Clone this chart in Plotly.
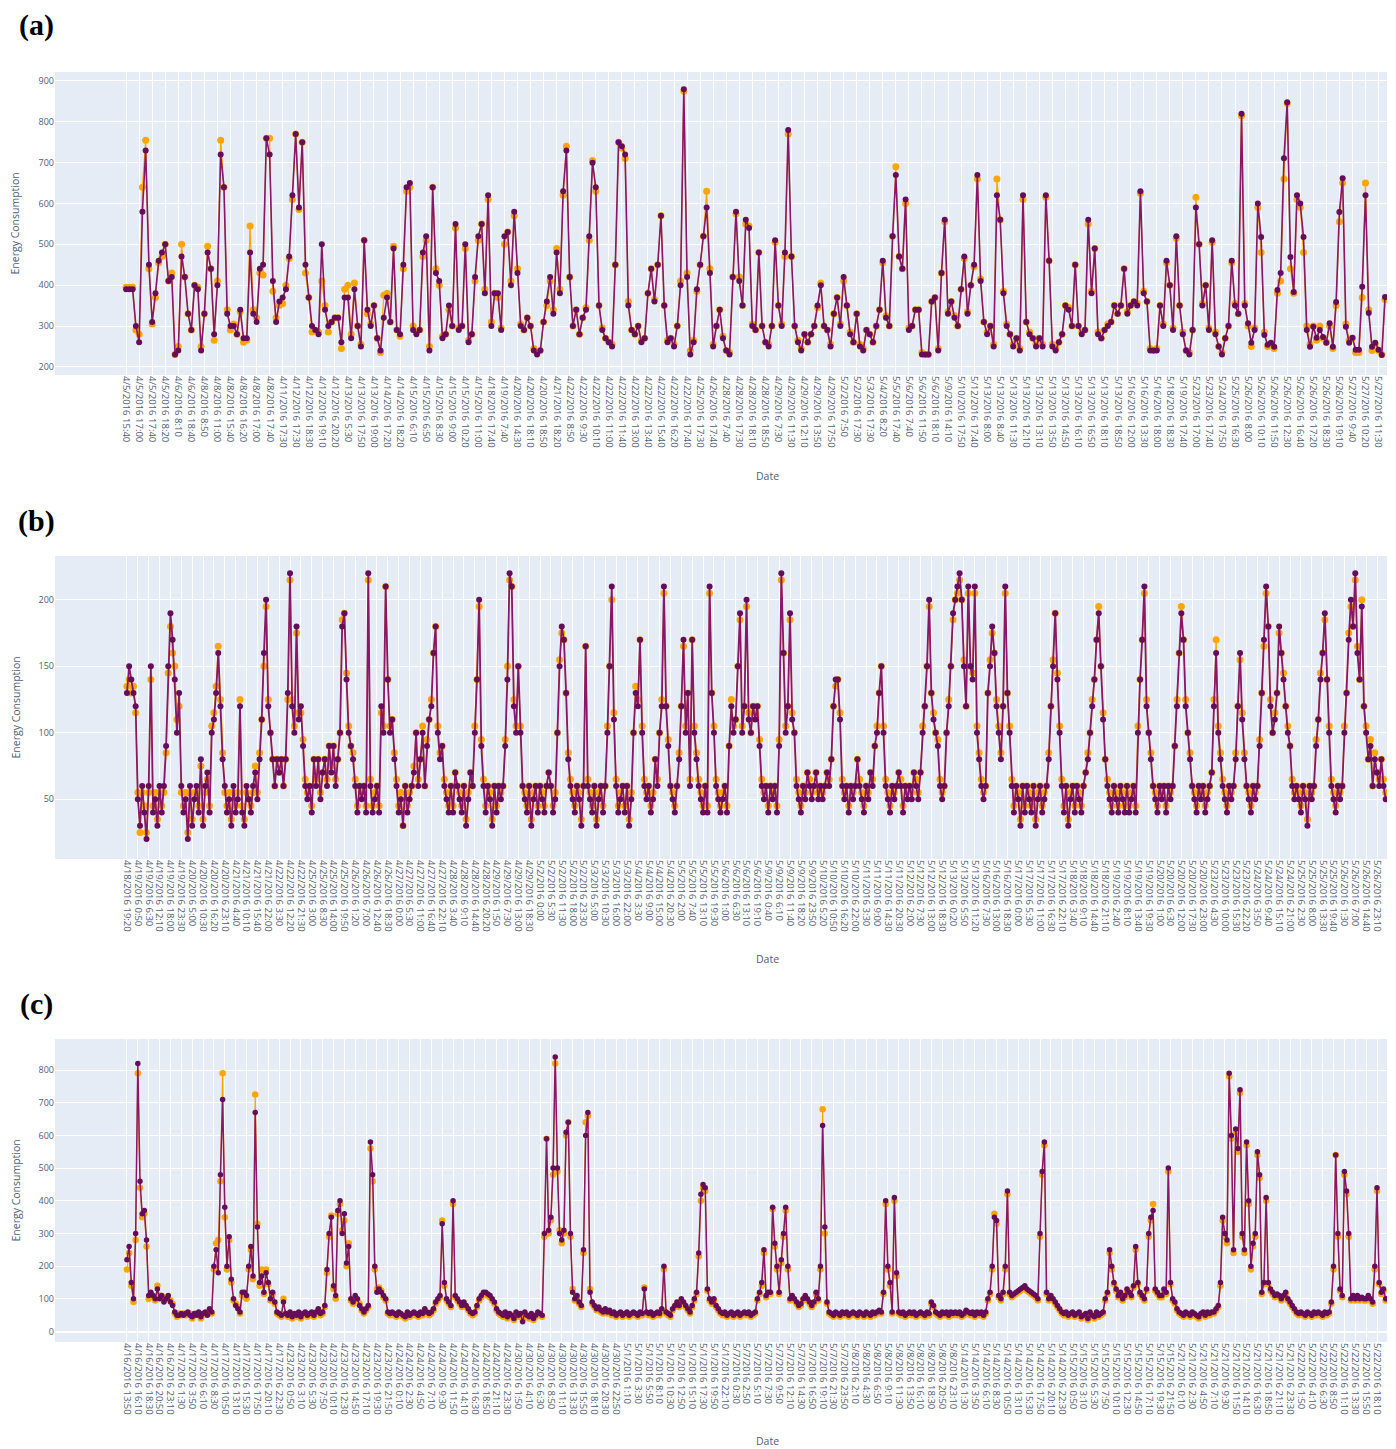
import plotly.graph_objects as go

# ---------------- panel (a) ----------------
A_LABELS = [
"4/5/2016 15:40","4/5/2016 17:00","4/5/2016 17:40","4/5/2016 18:20","4/6/2016 8:10","4/6/2016 18:40","4/8/2016 8:50","4/8/2016 11:00","4/8/2016 15:40","4/8/2016 16:20",
"4/8/2016 17:00","4/8/2016 17:40","4/11/2016 17:30","4/12/2016 17:30","4/12/2016 18:30","4/12/2016 19:10","4/12/2016 20:20","4/13/2016 5:30","4/13/2016 17:50","4/13/2016 19:00",
"4/14/2016 17:20","4/14/2016 18:20","4/15/2016 6:10","4/15/2016 6:50","4/15/2016 8:30","4/15/2016 9:00","4/15/2016 10:20","4/15/2016 11:00","4/18/2016 17:40","4/19/2016 7:40",
"4/20/2016 14:30","4/20/2016 18:10","4/20/2016 18:50","4/21/2016 18:20","4/22/2016 8:50","4/22/2016 9:30","4/22/2016 10:10","4/22/2016 11:00","4/22/2016 11:40","4/22/2016 13:00",
"4/22/2016 13:40","4/22/2016 15:40","4/22/2016 16:20","4/22/2016 17:40","4/25/2016 17:30","4/26/2016 17:40","4/28/2016 7:40","4/28/2016 17:30","4/28/2016 18:10","4/28/2016 18:50",
"4/29/2016 7:30","4/29/2016 11:30","4/29/2016 12:10","4/29/2016 13:50","4/29/2016 17:50","5/2/2016 7:50","5/2/2016 17:30","5/3/2016 17:30","5/4/2016 8:20","5/5/2016 17:40",
"5/6/2016 7:40","5/6/2016 11:50","5/6/2016 18:10","5/9/2016 14:10","5/10/2016 17:50","5/12/2016 17:40","5/13/2016 8:00","5/13/2016 8:40","5/13/2016 11:30","5/13/2016 12:10",
"5/13/2016 13:10","5/13/2016 13:50","5/13/2016 14:50","5/13/2016 16:10","5/13/2016 16:50","5/13/2016 18:10","5/13/2016 18:50","5/16/2016 12:00","5/16/2016 13:30","5/16/2016 18:00",
"5/18/2016 18:30","5/19/2016 17:40","5/23/2016 17:00","5/23/2016 17:40","5/24/2016 17:50","5/25/2016 16:30","5/26/2016 8:00","5/26/2016 10:10","5/26/2016 11:50","5/26/2016 12:30",
"5/26/2016 16:40","5/26/2016 17:20","5/26/2016 18:30","5/26/2016 19:10","5/27/2016 9:40","5/27/2016 10:20","5/27/2016 11:30","5/27/2016 12:10"]

A_ACTUAL = [
390,390,390,300,260,580,730,450,310,380,460,480,500,410,420,230,240,470,420,330,
290,400,390,240,330,480,440,280,400,720,640,330,300,300,280,340,270,270,480,330,
310,440,450,760,720,410,310,360,370,390,470,620,770,590,750,450,370,300,290,280,
500,340,300,310,320,320,260,370,370,270,390,300,250,510,340,300,350,270,240,320,
370,310,490,290,280,450,640,650,290,280,290,480,520,240,640,430,410,270,280,350,
300,550,290,300,500,260,280,420,520,550,380,620,300,380,380,290,520,530,400,580,
430,300,290,320,300,240,230,240,310,360,420,330,480,380,630,730,420,300,340,280,
320,340,520,700,640,350,290,270,260,250,450,750,740,720,350,290,280,300,260,270,
380,440,360,450,570,350,260,270,250,300,400,880,420,230,260,390,450,520,590,430,
250,300,340,270,240,230,420,580,410,350,560,540,300,290,480,300,260,250,300,510,
350,300,480,780,470,300,260,240,280,260,280,300,350,400,300,290,250,330,370,300,
420,350,280,260,330,250,240,290,280,260,300,340,460,320,300,520,670,470,440,610,
290,300,340,340,230,230,230,360,370,240,430,560,330,360,320,300,390,470,330,400,
450,670,410,310,280,300,250,620,560,380,300,280,250,270,240,620,310,280,270,250,
270,250,620,460,250,240,260,280,350,340,300,450,300,280,290,560,380,490,280,270,
290,300,310,350,330,350,440,330,350,360,350,630,380,360,240,240,240,350,300,460,
400,290,520,350,280,240,230,290,590,500,350,400,290,510,280,250,230,270,300,460,
350,330,820,350,307,259,290,600,518,278,254,259,249,388,430,711,848,469,383,620,
600,518,290,249,298,271,290,273,259,307,249,359,579,662,298,259,271,242,242,396,
620,332,249,259,242,229,371]

A_PRED = [
395,395,395,290,280,640,755,440,305,370,455,470,500,410,430,230,250,500,420,330,
290,400,395,250,330,495,440,265,410,755,640,340,290,305,280,335,260,265,545,340,
320,430,425,760,760,385,320,350,355,400,465,610,770,585,750,430,370,285,290,285,
410,350,285,310,320,320,245,390,400,280,405,300,255,510,330,305,350,270,235,375,
380,310,495,290,275,440,630,640,300,285,290,470,510,250,640,440,400,275,280,340,
300,540,295,300,490,265,280,410,510,550,390,610,310,380,370,295,500,530,410,570,
440,305,290,320,300,245,235,240,310,350,410,340,490,390,620,740,420,300,340,280,
320,345,510,705,630,350,295,270,260,255,450,750,735,710,360,290,280,300,265,270,
380,440,365,450,570,350,265,270,255,300,410,875,430,240,265,385,450,520,630,440,
255,300,340,275,240,235,420,575,420,350,550,545,305,290,480,300,260,255,300,505,
350,305,470,770,470,300,265,245,280,260,280,300,345,405,300,290,255,330,370,305,
410,350,285,260,330,255,245,290,280,260,300,340,455,325,300,520,690,470,440,600,
295,300,340,340,235,230,230,360,370,245,430,555,335,360,325,300,390,465,335,400,
445,660,415,310,285,300,255,660,560,385,305,280,255,270,245,610,310,285,270,255,
270,255,615,460,255,245,260,280,350,345,300,450,300,285,290,550,385,490,285,270,
290,305,310,350,330,350,440,335,350,360,355,625,385,360,245,240,245,350,305,455,
400,295,515,350,285,240,235,290,615,500,355,400,295,505,285,250,235,270,300,455,
355,330,815,355,300,250,295,590,480,285,250,255,245,380,410,660,845,440,380,610,
590,480,300,255,300,265,300,270,260,300,245,350,555,650,305,265,270,235,235,370,
650,340,240,255,240,230,365]

# ---------------- panel (b) ----------------
B_LABELS = [
"4/18/2016 19:20","4/19/2016 0:50","4/19/2016 6:30","4/19/2016 12:10","4/19/2016 18:00","4/19/2016 23:30","4/20/2016 5:00","4/20/2016 10:30","4/20/2016 16:20","4/20/2016 23:10",
"4/21/2016 4:40","4/21/2016 10:10","4/21/2016 15:40","4/21/2016 22:00","4/22/2016 3:30","4/22/2016 12:20","4/22/2016 21:30","4/25/2016 3:00","4/25/2016 8:30","4/25/2016 14:00",
"4/25/2016 19:50","4/26/2016 1:20","4/26/2016 7:00","4/26/2016 12:40","4/26/2016 18:30","4/27/2016 0:00","4/27/2016 5:30","4/27/2016 11:00","4/27/2016 16:40","4/27/2016 22:10",
"4/28/2016 3:40","4/28/2016 9:10","4/28/2016 14:40","4/28/2016 20:20","4/29/2016 1:50","4/29/2016 7:30","4/29/2016 13:00","4/29/2016 18:30","5/2/2016 0:00","5/2/2016 5:30",
"5/2/2016 11:30","5/2/2016 18:00","5/2/2016 23:30","5/3/2016 5:00","5/3/2016 10:30","5/3/2016 16:00","5/3/2016 22:00","5/4/2016 3:30","5/4/2016 9:00","5/4/2016 15:00",
"5/4/2016 20:30","5/5/2016 2:00","5/5/2016 7:40","5/5/2016 13:10","5/5/2016 19:30","5/6/2016 1:00","5/6/2016 6:30","5/6/2016 13:10","5/6/2016 19:10","5/9/2016 0:40",
"5/9/2016 6:10","5/9/2016 11:40","5/9/2016 18:20","5/9/2016 23:50","5/10/2016 5:20","5/10/2016 10:50","5/10/2016 16:20","5/10/2016 22:00","5/11/2016 3:30","5/11/2016 9:00",
"5/11/2016 14:30","5/11/2016 20:30","5/12/2016 2:00","5/12/2016 7:30","5/12/2016 13:00","5/12/2016 18:30","5/13/2016 0:20","5/13/2016 5:50","5/13/2016 11:20","5/16/2016 7:30",
"5/16/2016 13:00","5/16/2016 18:30","5/17/2016 0:00","5/17/2016 5:30","5/17/2016 11:00","5/17/2016 16:30","5/17/2016 22:10","5/18/2016 3:40","5/18/2016 9:10","5/18/2016 14:40",
"5/18/2016 21:10","5/19/2016 2:40","5/19/2016 8:10","5/19/2016 13:40","5/19/2016 19:30","5/20/2016 1:00","5/20/2016 6:30","5/20/2016 12:00","5/20/2016 17:30","5/20/2016 23:00",
"5/23/2016 4:30","5/23/2016 10:00","5/23/2016 15:30","5/23/2016 22:20","5/24/2016 3:50","5/24/2016 9:40","5/24/2016 15:10","5/24/2016 21:00","5/25/2016 2:30","5/25/2016 8:00",
"5/25/2016 13:30","5/25/2016 19:40","5/26/2016 1:30","5/26/2016 7:00","5/26/2016 14:40","5/26/2016 23:10"]

B_ACTUAL = [
130,150,140,130,120,50,30,60,40,20,60,150,40,50,30,60,40,60,90,150,
190,170,140,100,130,60,40,50,20,60,30,50,60,40,80,30,60,70,40,100,
110,130,160,120,80,60,40,50,30,60,40,50,120,40,30,60,50,40,60,70,
50,80,110,160,200,120,100,80,60,80,70,80,60,80,130,220,120,100,180,110,
120,90,60,50,60,40,80,60,80,50,70,80,60,90,70,90,60,80,100,180,
190,140,100,90,80,60,40,60,50,60,40,220,60,40,50,60,40,120,100,210,
140,100,110,80,60,40,50,30,60,40,50,60,70,100,60,80,100,60,90,110,
120,160,180,100,80,90,60,50,40,60,40,70,60,50,40,60,30,50,70,60,
100,140,200,90,60,40,60,50,30,60,40,60,50,60,90,140,220,210,120,100,
150,100,60,50,40,60,30,50,60,40,60,50,40,60,70,60,40,50,100,150,
180,170,130,80,60,50,40,60,50,30,60,165,60,50,40,60,30,50,60,40,
60,100,150,210,110,60,40,50,60,40,60,30,50,100,130,120,170,100,60,50,
60,40,50,80,60,100,120,210,120,90,60,50,40,60,80,120,170,100,130,60,
170,100,80,60,50,40,60,40,210,130,100,60,50,40,50,60,40,90,120,100,
110,150,190,100,120,200,110,100,120,110,120,90,60,50,60,40,60,50,60,40,
90,220,160,100,120,190,110,100,60,50,40,60,50,70,60,50,60,70,50,60,
50,60,70,60,80,120,140,140,110,60,50,60,40,60,50,60,80,60,50,40,
60,50,70,60,90,100,130,150,100,60,50,40,60,50,60,70,60,40,60,50,
60,50,70,60,50,70,100,120,150,200,130,110,100,90,60,50,60,100,120,150,
190,200,210,220,200,150,120,210,150,140,210,100,80,60,50,60,130,150,180,160,
120,100,80,120,210,130,100,60,40,60,50,30,60,40,60,50,40,60,30,50,
60,40,50,60,80,120,150,190,140,100,60,40,60,30,50,60,40,60,50,40,
60,70,80,100,120,140,170,190,150,110,80,60,50,40,60,50,40,60,50,40,
60,40,50,60,40,100,140,170,210,120,100,80,60,50,40,60,50,60,40,60,
50,60,90,120,160,190,170,120,100,80,60,50,40,60,50,60,40,50,60,70,
120,160,100,80,60,50,40,60,50,60,80,120,160,110,80,60,50,40,60,50,
60,90,130,170,210,180,120,100,110,130,180,160,140,120,100,90,60,50,60,50,
40,60,50,30,60,50,60,90,110,140,160,190,140,100,60,50,40,60,50,60,
100,130,170,200,180,220,160,140,195,120,100,80,90,60,80,70,60,80,60,50]

B_PRED = [
135,140,130,135,115,55,25,55,45,25,55,140,45,55,35,55,45,55,85,145,
180,160,150,110,120,55,45,55,25,55,35,55,55,45,75,35,55,65,45,105,
115,135,165,125,85,55,45,55,35,55,45,55,125,45,35,55,50,45,55,75,
55,85,110,150,195,125,100,80,60,80,70,80,60,80,125,215,125,105,175,115,
115,95,65,55,60,45,80,65,80,55,70,80,65,90,75,90,65,80,100,185,
190,145,105,90,85,65,45,60,55,60,45,215,65,45,55,60,45,115,105,210,
140,105,110,85,65,45,55,30,60,45,55,60,75,100,65,80,105,60,95,110,
125,160,180,105,85,90,65,55,45,60,45,70,60,55,45,60,35,55,70,60,
105,140,195,95,65,45,60,55,35,60,45,60,55,60,95,150,215,210,125,105,
150,105,60,55,45,60,35,55,60,45,60,55,45,60,70,60,45,55,100,155,
175,170,130,85,65,55,45,60,55,35,60,165,65,55,45,60,35,55,60,45,
60,105,150,200,115,65,45,55,60,45,60,35,55,100,135,125,170,105,65,55,
60,45,55,80,65,100,125,205,120,95,60,55,45,60,85,120,165,105,130,65,
170,105,85,65,55,45,60,45,205,130,105,65,55,45,55,60,45,90,125,105,
110,150,185,105,120,195,115,100,120,115,120,95,65,55,60,45,60,55,60,45,
95,215,160,105,120,185,115,100,65,55,45,60,55,70,65,55,60,70,55,60,
55,60,70,65,80,120,135,140,115,65,55,60,45,60,55,60,80,65,55,45,
60,55,70,65,90,105,130,150,105,65,55,45,60,55,60,70,65,45,60,55,
60,55,70,65,55,70,105,120,150,195,130,115,100,95,65,55,60,100,125,150,
185,200,205,215,200,155,120,205,150,145,205,105,85,65,55,60,130,155,175,160,
125,105,85,120,205,130,105,65,45,60,55,35,60,45,60,55,45,60,35,55,
60,45,55,60,85,120,155,190,145,105,65,45,60,35,55,60,45,60,55,45,
60,70,85,100,125,140,170,195,150,115,80,65,55,45,60,55,45,60,55,45,
60,45,55,60,45,105,140,170,205,125,100,85,60,55,45,60,55,60,45,60,
55,60,90,125,160,195,170,125,100,85,60,55,45,60,55,60,45,55,60,70,
125,170,105,85,65,55,45,60,55,60,85,120,155,115,85,60,55,45,60,55,
60,95,130,165,205,180,125,100,115,130,175,160,145,120,105,90,65,55,60,55,
45,60,55,35,60,55,60,95,110,145,160,185,140,105,65,55,45,60,55,60,
105,130,175,195,180,215,165,140,200,120,105,80,95,60,85,70,65,80,65,55]

# ---------------- panel (c) ----------------
C_LABELS = [
"4/16/2016 13:50","4/16/2016 16:10","4/16/2016 18:30","4/16/2016 20:50","4/16/2016 23:10",
"4/17/2016 1:30","4/17/2016 3:50","4/17/2016 6:10","4/17/2016 8:30","4/17/2016 10:50","4/17/2016 13:10","4/17/2016 15:30","4/17/2016 17:50","4/17/2016 20:10","4/17/2016 22:30",
"4/23/2016 0:50","4/23/2016 3:10","4/23/2016 5:30","4/23/2016 7:50","4/23/2016 10:10","4/23/2016 12:30","4/23/2016 14:50","4/23/2016 17:10","4/23/2016 19:30","4/23/2016 21:50",
"4/24/2016 0:10","4/24/2016 2:30","4/24/2016 4:50","4/24/2016 7:10","4/24/2016 9:30","4/24/2016 11:50","4/24/2016 14:10","4/24/2016 16:30","4/24/2016 18:50","4/24/2016 21:10","4/24/2016 23:30",
"4/30/2016 1:50","4/30/2016 4:10","4/30/2016 6:30","4/30/2016 8:50","4/30/2016 11:10","4/30/2016 13:30","4/30/2016 15:50","4/30/2016 18:10","4/30/2016 20:30","4/30/2016 22:50",
"5/1/2016 1:10","5/1/2016 3:30","5/1/2016 5:50","5/1/2016 8:10","5/1/2016 10:30","5/1/2016 12:50","5/1/2016 15:10","5/1/2016 17:30","5/1/2016 19:50","5/1/2016 22:10",
"5/7/2016 0:30","5/7/2016 2:50","5/7/2016 5:10","5/7/2016 7:30","5/7/2016 9:50","5/7/2016 12:10","5/7/2016 14:30","5/7/2016 16:50","5/7/2016 19:10","5/7/2016 21:30","5/7/2016 23:50",
"5/8/2016 2:10","5/8/2016 4:30","5/8/2016 6:50","5/8/2016 9:10","5/8/2016 11:30","5/8/2016 13:50","5/8/2016 16:10","5/8/2016 18:30","5/8/2016 20:50","5/8/2016 23:10",
"5/14/2016 1:30","5/14/2016 3:50","5/14/2016 6:10","5/14/2016 8:30","5/14/2016 10:50","5/14/2016 13:10","5/14/2016 15:30","5/14/2016 17:50","5/14/2016 20:10","5/14/2016 22:30",
"5/15/2016 0:50","5/15/2016 3:10","5/15/2016 5:30","5/15/2016 7:50","5/15/2016 10:10","5/15/2016 12:30","5/15/2016 14:50","5/15/2016 17:10","5/15/2016 19:30","5/15/2016 21:50",
"5/21/2016 0:10","5/21/2016 2:30","5/21/2016 4:50","5/21/2016 7:10","5/21/2016 9:30","5/21/2016 11:50","5/21/2016 14:10","5/21/2016 16:30","5/21/2016 18:50","5/21/2016 21:10","5/21/2016 23:30",
"5/22/2016 1:50","5/22/2016 4:10","5/22/2016 6:30","5/22/2016 8:50","5/22/2016 11:10","5/22/2016 13:30","5/22/2016 15:50","5/22/2016 18:10"]

C_ACTUAL = [
220,260,150,100,300,820,460,360,370,280,110,120,110,100,130,100,110,90,100,110,
90,80,60,50,50,55,50,55,60,50,45,55,50,60,45,55,60,50,70,60,
200,250,180,480,710,380,200,290,160,100,80,70,60,120,120,110,200,260,170,670,
320,150,170,120,180,150,100,120,90,60,55,50,90,55,50,60,45,55,50,60,
45,55,60,50,55,60,50,60,70,55,60,80,190,300,350,140,110,370,400,300,
360,210,260,100,90,110,100,80,70,60,70,80,580,480,200,120,130,120,110,100,
60,55,60,55,50,60,55,50,45,60,50,55,60,55,50,60,55,70,60,55,
60,70,90,100,110,330,150,100,90,80,400,110,100,90,80,90,80,70,60,55,
60,80,100,110,120,120,115,110,100,90,70,60,55,50,60,45,55,50,40,60,
50,55,30,60,50,45,55,40,50,60,55,50,300,590,310,350,500,840,500,300,
280,310,610,640,300,120,100,110,90,80,250,600,670,120,90,80,70,75,65,60,
70,60,65,55,60,50,55,60,50,55,60,50,55,60,55,50,60,55,130,60,
55,60,50,55,60,55,70,200,60,55,50,70,80,90,80,100,90,80,70,60,
80,100,120,240,420,450,440,130,100,90,100,80,70,60,55,60,50,55,60,50,
55,60,50,55,60,55,60,50,55,60,100,120,150,250,110,120,120,380,270,200,
120,220,300,380,200,100,110,100,90,80,85,100,110,100,90,80,90,120,100,200,
630,320,90,60,55,50,60,55,50,60,55,60,50,55,60,55,50,60,55,50,
60,55,50,60,55,60,65,60,120,400,200,150,60,410,180,60,55,60,50,55,
60,55,60,50,55,60,55,50,60,55,90,80,60,55,50,60,55,60,50,60,
55,60,55,60,50,55,65,60,55,60,50,60,55,60,50,60,100,120,200,350,
340,110,100,120,200,430,120,110,115,120,125,130,135,140,130,125,120,115,110,100,
300,490,580,120,100,110,100,90,80,70,60,55,60,50,55,60,50,55,60,45,
50,55,40,60,50,45,60,50,55,60,100,120,250,200,150,130,110,120,100,110,
130,120,110,140,260,150,120,110,100,130,300,350,370,130,120,110,110,130,120,500,
150,100,90,70,60,55,50,60,55,50,60,55,50,45,55,60,50,60,55,60,
60,70,80,150,350,300,280,790,600,250,620,560,740,300,250,580,400,200,270,300,
550,480,120,150,410,150,130,120,110,115,110,100,110,120,100,90,80,70,60,55,
60,55,50,60,55,50,60,55,60,55,50,60,55,60,90,200,540,300,130,110,
490,430,300,100,110,100,110,100,105,100,100,110,100,90,200,440,150,120,130,100]

C_PRED = [
190,240,140,90,280,790,440,350,360,260,100,115,105,95,140,110,105,95,105,100,
95,85,55,45,55,50,55,50,55,55,40,50,55,55,40,50,55,55,65,55,
190,270,280,460,790,350,190,280,150,95,85,75,55,110,115,100,190,250,160,725,
330,140,190,115,190,145,95,115,85,55,50,45,100,50,45,55,40,50,45,55,
40,50,55,45,50,55,45,55,65,50,55,75,180,290,355,130,100,360,390,310,
340,200,270,95,85,100,95,85,65,55,65,75,560,460,190,130,135,125,105,95,
55,50,55,50,45,55,50,45,40,55,45,50,55,50,45,55,50,65,55,50,
55,65,85,95,105,340,140,95,85,75,390,105,95,85,75,85,75,65,55,50,
55,75,95,105,115,115,110,105,95,85,65,55,50,45,55,40,50,45,35,55,
45,50,35,55,45,40,50,35,45,55,50,45,290,590,300,340,480,820,490,310,
270,300,600,640,290,130,95,105,85,75,240,640,660,130,85,75,65,70,60,55,
65,55,60,50,55,45,50,55,45,50,55,45,50,55,50,45,55,50,135,55,
50,55,45,50,55,50,65,190,55,50,45,65,75,85,75,95,85,75,65,55,
75,95,115,230,400,440,430,125,95,85,95,75,65,55,50,55,45,50,55,45,
50,55,45,50,55,50,55,45,50,55,95,115,140,240,105,115,115,375,260,190,
115,210,290,370,190,95,105,95,85,75,80,95,105,95,85,75,85,115,95,190,
680,300,85,55,50,45,55,50,45,55,50,55,45,50,55,50,45,55,50,45,
55,50,45,55,50,55,60,55,115,390,190,140,55,400,170,55,50,55,45,50,
55,50,55,45,50,55,50,45,55,50,85,75,55,50,45,55,50,55,45,55,
50,55,50,55,45,50,60,55,50,55,45,55,50,55,45,55,95,115,190,360,
330,105,95,115,190,420,115,105,110,115,120,125,130,135,125,120,115,110,105,95,
290,480,570,115,95,105,95,85,75,65,55,50,55,45,50,55,45,50,55,40,
45,50,35,55,45,40,55,45,50,55,95,115,240,190,145,125,105,115,95,105,
125,115,105,135,250,145,115,105,95,125,290,340,390,125,115,105,105,125,115,490,
145,95,85,65,55,50,45,55,50,45,55,50,45,40,50,55,45,55,50,55,
55,65,75,140,340,290,270,780,590,240,610,550,730,290,240,570,390,190,260,290,
540,470,115,145,400,145,125,115,105,110,105,95,105,115,95,85,75,65,55,50,
55,50,45,55,50,45,55,50,55,50,45,55,50,55,85,190,540,290,125,105,
480,420,290,95,105,95,105,95,100,95,95,105,95,85,190,430,145,115,125,95]

# ---------------- styling ----------------
PURPLE_LINE = "#8a1766"
PURPLE_MARK = "#650d58"
ORANGE = "#FFA500"
TXT = "#506078"
OFF = 8                      # the page's default body margin
W, H = 1396 - OFF, 1449 - OFF


def fx(px):
    return (px - OFF) / W


def fy(px):
    return 1 - (px - OFF) / H


panels = [
    dict(act=A_ACTUAL, pred=A_PRED, labels=A_LABELS, step=4, xr=[-21.8, 386.6], yr=[180, 922],
         dtick=100, top=72, bot=375, ms=6, lw=1.6, tag="(a)", tagy=25, datey=476),
    dict(act=B_ACTUAL, pred=B_PRED, labels=B_LABELS, step=5, xr=[-33.1, 579.6], yr=[5, 233],
         dtick=50, top=556, bot=859, ms=6, lw=1.8, tag="(b)", tagy=521, datey=959),
    dict(act=C_ACTUAL, pred=C_PRED, labels=C_LABELS, step=5, xr=[-33.1, 579.6], yr=[-32, 895],
         dtick=100, top=1039, bot=1342, ms=5.5, lw=1.5, tag="(c)", tagy=1004, datey=1441),
]

fig = go.Figure()
annotations = []
layout_axes = {}
for k, p in enumerate(panels, start=1):
    xa = "x" if k == 1 else f"x{k}"
    ya = "y" if k == 1 else f"y{k}"
    xs = list(range(len(p["act"])))
    fig.add_trace(go.Scatter(x=xs, y=p["pred"], mode="lines+markers",
                             line=dict(color=ORANGE, width=1.2),
                             marker=dict(color=ORANGE, size=p["ms"] + 1),
                             xaxis=xa, yaxis=ya, showlegend=False, name="Predicted"))
    fig.add_trace(go.Scatter(x=xs, y=p["act"], mode="lines+markers",
                             line=dict(color=PURPLE_LINE, width=p["lw"]),
                             marker=dict(color=PURPLE_MARK, size=p["ms"]),
                             xaxis=xa, yaxis=ya, showlegend=False, name="Actual"))
    tickvals = [i * p["step"] for i in range(len(p["labels"]))]
    layout_axes["xaxis" if k == 1 else f"xaxis{k}"] = dict(
        domain=[fx(55), fx(1387)], anchor=ya, range=p["xr"], tickmode="array",
        tickvals=tickvals, ticktext=p["labels"], tickangle=90, showgrid=True,
        gridcolor="white", gridwidth=1, zeroline=False, showline=False, automargin=False,
        tickfont=dict(size=9.5, color=TXT), ticks="")
    layout_axes["yaxis" if k == 1 else f"yaxis{k}"] = dict(
        domain=[fy(p["bot"]), fy(p["top"])], anchor=xa, range=p["yr"], dtick=p["dtick"],
        showgrid=True, gridcolor="white", gridwidth=1, zeroline=True, automargin=False,
        zerolinecolor="white", zerolinewidth=2, tickfont=dict(size=9, color=TXT), ticks="")
    annotations.append(dict(text="<b>" + p["tag"] + "</b>", x=fx(36), y=fy(p["tagy"]),
                            xref="paper", yref="paper", showarrow=False,
                            xanchor="center", yanchor="middle",
                            font=dict(family="Liberation Serif, Times New Roman, serif", size=30, color="black")))
    annotations.append(dict(text="Energy Consumption", x=fx(15), y=fy((p["top"] + p["bot"]) / 2),
                            xref="paper", yref="paper", showarrow=False, textangle=-90,
                            xanchor="center", yanchor="middle",
                            font=dict(size=10.5, color=TXT)))
    annotations.append(dict(text="Date", x=fx(768), y=fy(p["datey"]), xref="paper", yref="paper",
                            xanchor="center", yanchor="middle",
                            showarrow=False, font=dict(size=10.5, color=TXT)))

fig.update_layout(width=W, height=H, margin=dict(l=0, r=0, t=0, b=0, autoexpand=False),
                  template="plotly",
                  paper_bgcolor="white", plot_bgcolor="#E5ECF6",
                  font=dict(family="Open Sans, Arial, sans-serif", size=9, color=TXT),
                  showlegend=False, annotations=annotations, **layout_axes)

fig.write_html("out.html")
